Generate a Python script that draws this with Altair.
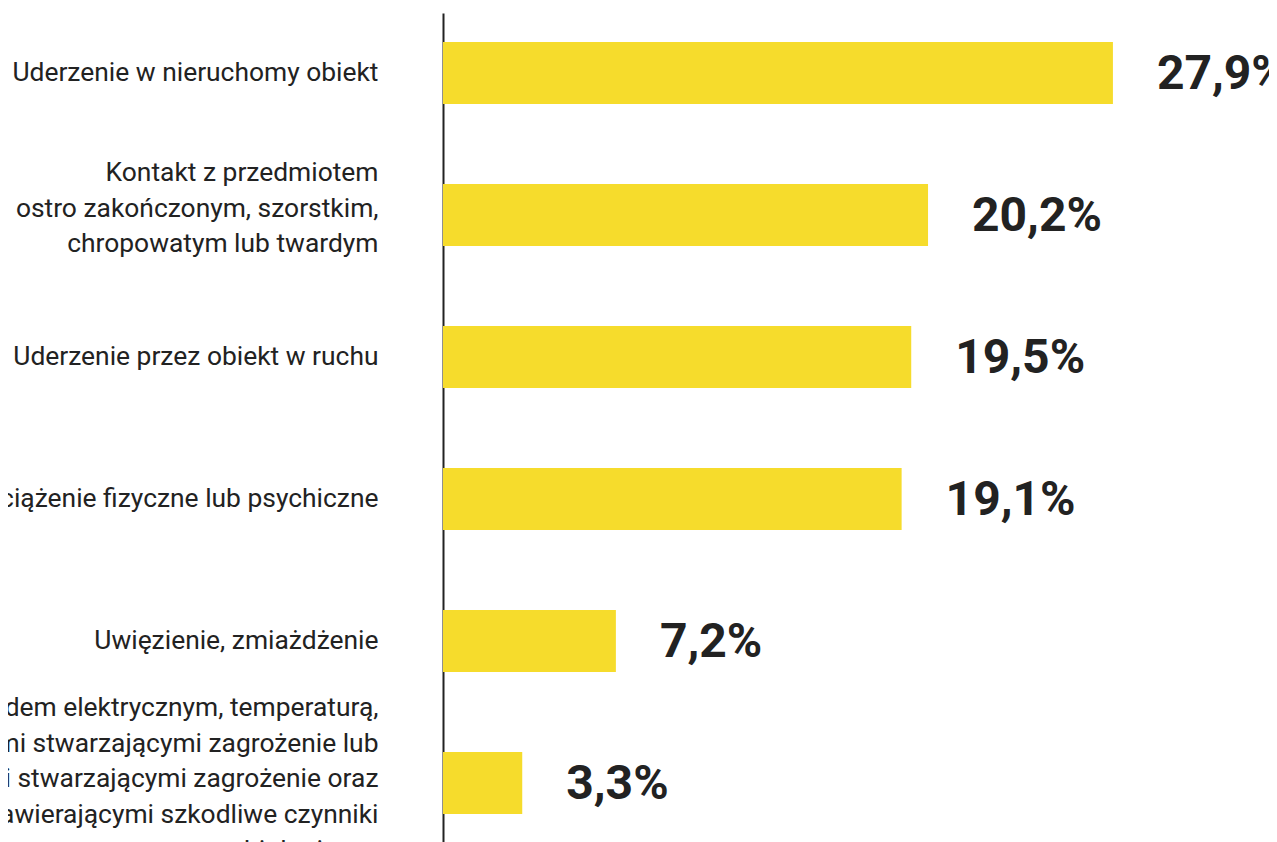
import altair as alt
import pandas as pd

categories = [
    "Uderzenie w nieruchomy obiekt",
    "Kontakt z przedmiotem|ostro zakończonym, szorstkim,|chropowatym lub twardym",
    "Uderzenie przez obiekt w ruchu",
    "Obciążenie fizyczne lub psychiczne",
    "Uwięzienie, zmiażdżenie",
    "Kontakt z prądem elektrycznym, temperaturą,|substancjami stwarzającymi zagrożenie lub|mieszaninami stwarzającymi zagrożenie oraz|substancjami i mieszaninami zawierającymi szkodliwe czynniki|biologiczne",
]
values = [27.9, 20.2, 19.5, 19.1, 7.2, 3.3]
value_labels = ["27,9%", "20,2%", "19,5%", "19,1%", "7,2%", "3,3%"]

df = pd.DataFrame({"cat": categories, "val": values, "lab": value_labels})

y = alt.Y(
    "cat:N",
    sort=categories,
    title=None,
    scale=alt.Scale(paddingInner=0.563, paddingOuter=0.204),
    axis=alt.Axis(
        labelExpr="split(datum.label, '|')",
        labelFont="Roboto",
        labelFontSize=26.4,
        labelColor="#222222",
        labelLineHeight=35.7,
        labelLimit=2000,
        labelPadding=65,
        labelOffset={
            "condition": [
                {"test": "indexof(datum.label, 'Kontakt z przedmiotem') >= 0", "value": -42},
                {"test": "indexof(datum.label, 'biologiczne') >= 0", "value": -75},
            ],
            "value": 0,
        },
        ticks=False,
        domainColor="#222222",
        domainWidth=2,
        grid=False,
    ),
)
x = alt.X("val:Q", title=None, scale=alt.Scale(domain=[0, 34.4], nice=False, zero=True), axis=None)

bars = alt.Chart(df).mark_bar(color="#F6DC2C").encode(x=x, y=y)
texts = alt.Chart(df).mark_text(
    align="left",
    baseline="middle",
    dx=44,
    dy=2,
    font="Roboto",
    fontWeight="bold",
    fontSize=48,
    color="#222222",
).encode(x=x, y=y, text="lab:N")

chart = (
    alt.layer(bars, texts)
    .properties(
        width=826,
        height=830,
        background="white",
        autosize=alt.AutoSizeParams(type="none"),
        padding={"left": 435, "top": 5, "right": 0, "bottom": 0},
    )
    .configure_view(stroke=None, strokeWidth=0)
)

chart.save("out.html", embed_options={"renderer": "svg", "actions": False})
